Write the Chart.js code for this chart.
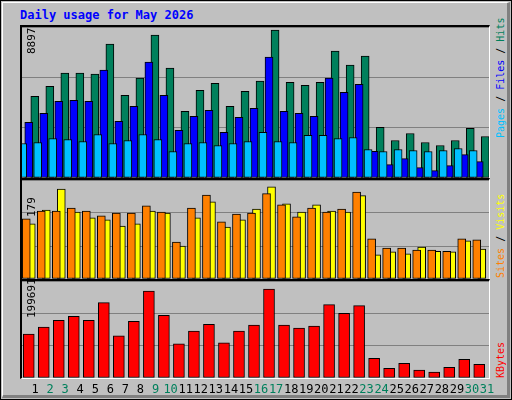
<!DOCTYPE html>
<html><head><meta charset="utf-8">
<script src="https://cdn.jsdelivr.net/npm/chart.js@4"></script>
<style>
body{margin:0;background:#fff;}
#wrap{position:absolute;left:0;top:0;width:510px;height:398px;background:#c0c0c0;border:1px solid #000;font-family:"DejaVu Sans Mono",monospace;}
#inner{position:absolute;left:1px;top:1px;width:504px;height:392px;border-right:3px solid #808080;border-bottom:3px solid #808080;border-top:1px solid #fff;border-left:1px solid #fff;}
.panel{position:absolute;left:19px;width:470px;border-top:2px solid #000;border-left:2px solid #000;border-right:1px solid #fff;border-bottom:1px solid #fff;box-sizing:border-box;}
.panel canvas{position:absolute;left:0;top:0;}
.rot{position:absolute;transform-origin:0 0;transform:rotate(-90deg);white-space:nowrap;font-size:10px;line-height:12px;}
#title{position:absolute;left:19px;top:7px;color:#0000ff;font-weight:bold;font-size:12px;}
#xl{position:absolute;top:381px;font-size:12px;}
#xl span{position:absolute;width:16px;text-align:center;}
</style></head><body>
<div id="wrap"><div id="inner"></div>
<div id="title">Daily usage for May 2026</div>
<div class="panel" style="top:24px;height:154px"><canvas id="c1"></canvas></div>
<div class="panel" style="top:177px;height:102px"><canvas id="c2"></canvas></div>
<div class="panel" style="top:278px;height:100px"><canvas id="c3"></canvas></div>
<div class="rot" style="left:25px;top:53px;font-size:11px">8897</div>
<div class="rot" style="left:25px;top:216px;font-size:11px">179</div>
<div class="rot" style="left:25px;top:317px;font-size:11px">199691</div>
<div class="rot" style="left:494px;top:137px"><span style="color:#00c0ff">Pages</span> / <span style="color:#0000ff">Files</span> / <span style="color:#00805c">Hits</span></div>
<div class="rot" style="left:494px;top:277px"><span style="color:#ff8000">Sites</span> / <span style="color:#ffff00">Visits</span></div>
<div class="rot" style="left:494px;top:377px"><span style="color:#ff0000">KBytes</span></div>
<div id="xl"></div>
</div>
<script>
const days=[1,2,3,4,5,6,7,8,9,10,11,12,13,14,15,16,17,18,19,20,21,22,23,24,25,26,27,28,29,30,31];
const weekendDays=[2,3,9,10,16,17,23,24,30,31];
const hits=[4912,5516,6301,6301,6240,8052,4972,5999,8596,6603,4006,5274,5697,4308,5214,5818,8897,5757,5576,5757,7629,6784,7327,3040,2255,2677,2134,1953,2255,2979,2496];
const files=[3342,3885,4610,4670,4610,6482,3402,4308,6965,4972,2858,3704,4066,2738,3644,4187,7267,4006,3885,3704,5999,5153,5636,1610,805,1168,624,443,745,1409,986];
const pages=[2073,2134,2375,2315,2194,2617,2073,2255,2617,2315,1590,2073,2134,1953,2073,2194,2738,2194,2134,2557,2557,2375,2436,1711,1590,1711,1651,1590,1651,1771,1651];
const visits=[107,134,175,130,119,115,103,107,132,128,64,119,150,101,115,136,179,146,130,144,132,130,162,47,53,49,62,54,53,74,58];
const sites=[117,132,132,138,132,123,128,128,142,130,72,138,163,111,126,128,166,144,121,138,130,136,169,78,60,60,56,56,54,78,76];
const kbytes=[98752,114114,129476,138254,129476,168977,94364,127281,195311,140448,76808,105336,120698,79002,105336,118503,199691,118503,111920,116309,164588,144837,162393,43890,21945,32918,17556,13167,24140,41696,30723];

const xl=document.getElementById('xl');
days.forEach(d=>{const s=document.createElement('span');s.textContent=d;s.style.left=(26+(d-1)*15.07)+'px';s.style.color=weekendDays.includes(d)?'#00805c':'#000';xl.appendChild(s);});

function ds(vals,off,color,w,order){return{data:vals.map((v,i)=>({x:days[i]+off,y:v})),backgroundColor:color,borderColor:'#000',borderWidth:1,barThickness:w,order:order,borderSkipped:false};}
function make(id,w,h,sets,max){
  const c=document.getElementById(id);c.width=w;c.height=h;c.style.width=w+'px';c.style.height=h+'px';
  new Chart(c,{type:'bar',data:{datasets:sets},options:{responsive:false,animation:false,
    layout:{padding:0},plugins:{legend:{display:false},tooltip:{enabled:false}},
    scales:{x:{type:'linear',offset:false,min:0.55,max:31.65,display:false},
      y:{min:0,max:max,ticks:{display:false,stepSize:max/3},border:{display:false},grid:{color:'#808080',lineWidth:1,drawTicks:false},afterFit:a=>{a.width=0;}}}}});
}
make('c1',467,151,[ds(pages,0.13,'#00c0ff',8,1),ds(files,0,'#0000ff',8,2),ds(hits,-0.13,'#00805c',8,3)],Math.max(...hits)*1.02);
make('c2',467,99,[ds(sites,0.1,'#ff8000',8,1),ds(visits,-0.1,'#ffff00',8,2)],Math.max(...visits)*1.075);
make('c3',467,97,[ds(kbytes,0,'#ff0000',11,1)],Math.max(...kbytes)*1.09);
</script>
</body></html>
